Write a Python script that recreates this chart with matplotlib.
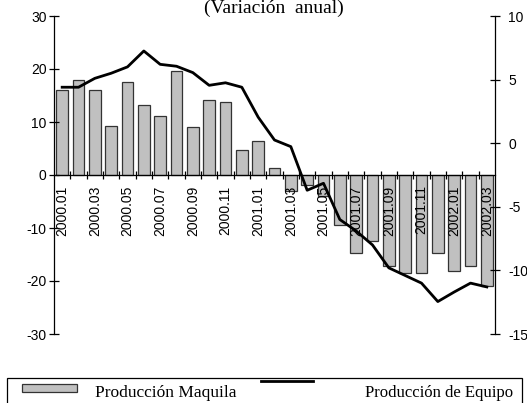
import numpy as np
import matplotlib.pyplot as plt
from matplotlib.patches import Rectangle
from matplotlib.lines import Line2D

plt.rcParams['axes.unicode_minus'] = False

# monthly periods 2000.01 - 2002.03
months = ['2000.01', '2000.02', '2000.03', '2000.04', '2000.05', '2000.06',
          '2000.07', '2000.08', '2000.09', '2000.10', '2000.11', '2000.12',
          '2001.01', '2001.02', '2001.03', '2001.04', '2001.05', '2001.06',
          '2001.07', '2001.08', '2001.09', '2001.10', '2001.11', '2001.12',
          '2002.01', '2002.02', '2002.03']

# Producción Maquila (left axis, bars)
maquila = [16.1, 17.9, 16.1, 9.3, 17.5, 13.2, 11.1, 19.6, 9.0, 14.2, 13.7,
           4.7, 6.4, 1.3, -3.0, -1.8, -4.0, -9.5, -14.7, -12.5, -17.2,
           -18.4, -18.4, -14.7, -18.1, -17.2, -21.0]

# Producción de Equipo (right axis, line)
equipo = [4.4, 4.4, 5.1, 5.5, 6.0, 7.25, 6.2, 6.05, 5.55, 4.55, 4.75, 4.4,
          2.05, 0.25, -0.27, -3.7, -3.15, -6.0, -6.9, -8.0, -9.8, -10.4,
          -11.0, -12.45, -11.7, -11.0, -11.3]

W, H = 527, 403
fig = plt.figure(figsize=(W / 100, H / 100), dpi=100)
ax = fig.add_axes([54 / W, 1 - 334 / H, (495 - 54) / W, 318 / H])

x = np.arange(len(months))
ax.bar(x, maquila, width=0.72, color='#c0c0c0', edgecolor='#333333',
       linewidth=0.9, zorder=2)
ax.set_xlim(-0.5, len(months) - 0.5)
ax.set_ylim(-30, 30)
ax.set_yticks(range(-30, 31, 10))
ax.set_axisbelow(False)  # labels over the bars

ax.spines['top'].set_visible(False)
ax.spines['right'].set_visible(False)
ax.spines['bottom'].set_position(('data', 0))
ax.spines['bottom'].set_zorder(3)
for s in ['left', 'bottom']:
    ax.spines[s].set_linewidth(0.9)

# tick marks between categories, labels every other month
ax.set_xticks(np.arange(0.5, len(months) - 1, 1))
ax.set_xticklabels([])
ax.tick_params(axis='x', which='major', direction='inout', length=6, width=0.9)
ax.set_xticks(x[::2], minor=True)
ax.set_xticklabels(months[::2], minor=True, rotation=90,
                   fontsize=10, family='Liberation Sans')
ax.tick_params(axis='x', which='minor', length=0, pad=7.5)
ax.tick_params(axis='y', direction='inout', length=7.2, width=0.9, pad=1.8,
               labelsize=10)
for t in ax.get_yticklabels():
    t.set_family('Liberation Sans')

ax2 = ax.twinx()
ax2.plot(x, equipo, color='black', linewidth=2, zorder=4)
ax2.set_ylim(-15, 10)
ax2.set_yticks(range(-15, 11, 5))
for s in ['top', 'bottom', 'left']:
    ax2.spines[s].set_visible(False)
ax2.spines['right'].set_linewidth(0.9)
ax2.tick_params(axis='y', direction='inout', length=7.2, width=0.9, pad=5.8,
                labelsize=10)
for t in ax2.get_yticklabels():
    t.set_family('Liberation Sans')

fig.text(273.5 / W, 1 - 13 / H, '(Variación  anual)', ha='center',
         va='baseline', fontsize=14, family='Liberation Serif')

# legend box
tf = fig.transFigure
fig.add_artist(Rectangle((7.3 / W, -20 / H), (521.7 - 7.3) / W, (403 + 20 - 378) / H,
                         transform=tf, fill=False, edgecolor='black',
                         linewidth=0.9, clip_on=False))
fig.add_artist(Rectangle((21.7 / W, 1 - 392 / H), 55 / W, 8 / H, transform=tf,
                         facecolor='#c0c0c0', edgecolor='#333333',
                         linewidth=0.9))
fig.add_artist(Line2D([261 / W, 313 / W], [1 - 381 / H, 1 - 381 / H],
                      transform=tf, color='black', linewidth=2))
fig.text(95 / W, 1 - 397 / H, 'Producción Maquila', ha='left', va='baseline',
         fontsize=12.5, family='Liberation Serif')
fig.text(513 / W, 1 - 397 / H, 'Producción de Equipo', ha='right',
         va='baseline', fontsize=12, family='Liberation Serif')

fig.savefig('out.png', dpi=100)
